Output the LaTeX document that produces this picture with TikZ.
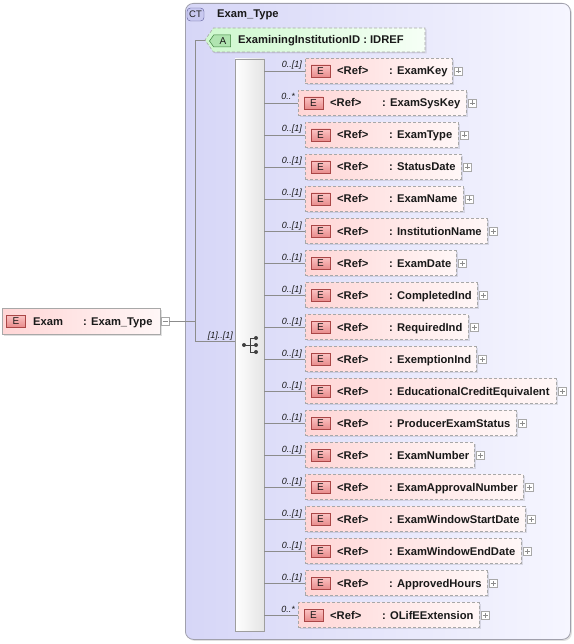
\documentclass[tikz,border=0pt]{standalone}
\usepackage{fontspec}
\setmainfont{Liberation Sans}
\usetikzlibrary{shapes.symbols,shadows,calc}
\definecolor{ctleft}{RGB}{214,214,247}
\definecolor{ctright}{RGB}{246,246,255}
\definecolor{ctborder}{RGB}{160,160,172}
\definecolor{eleft}{RGB}{255,214,214}
\definecolor{eright}{RGB}{255,247,247}
\definecolor{boxborder}{RGB}{168,168,168}
\definecolor{badgetop}{RGB}{252,196,196}
\definecolor{badgebot}{RGB}{232,140,140}
\definecolor{badgeborder}{RGB}{170,70,70}
\definecolor{aleft}{RGB}{206,248,206}
\definecolor{aright}{RGB}{246,255,246}
\definecolor{abadge}{RGB}{176,228,176}
\definecolor{abadgeborder}{RGB}{60,130,60}
\definecolor{ctbadge}{RGB}{200,200,240}
\definecolor{ctbadgeborder}{RGB}{90,90,150}
\definecolor{seqright}{RGB}{228,228,228}
\definecolor{connc}{RGB}{140,140,140}
\definecolor{txtc}{RGB}{25,25,25}
\tikzset{
  conn/.style={draw=connc, line width=0.6pt},
  lbl/.style={anchor=base west, inner sep=0pt, text=txtc, font=\fontsize{11.2}{13}\selectfont\bfseries},
  multlbl/.style={anchor=base east, inner sep=0pt, text=txtc, font=\fontsize{9}{10}\selectfont\itshape},
  elembox/.style={draw=boxborder, dash pattern=on 3pt off 2pt, line width=0.6pt,
    left color=eleft, right color=eright, minimum height=25pt, inner sep=0pt, outer sep=0pt,
    anchor=west, drop shadow={shadow xshift=1.5pt, shadow yshift=-1.5pt, fill=black, opacity=0.10}},
  ebadge/.style={draw=badgeborder, line width=0.5pt, top color=badgetop, bottom color=badgebot,
    minimum width=19pt, minimum height=12pt, inner sep=0pt, font=\fontsize{10}{10}\selectfont, text=txtc},
  plusbox/.style={draw=boxborder, fill=white, minimum width=8pt, minimum height=8pt, inner sep=0pt, line width=0.5pt},
  pmline/.style={draw=black!45, line width=0.5pt},
}
\newcommand\elemrow[6]{%
  \node[elembox, minimum width={#4pt-#3pt}] (#1) at (#3,#2) {};
  \node[ebadge] (#1-b) at (#3+15.5,#2) {E};
  \node[lbl] (#1-r) at (#3+32,#2+4) {<Ref>};
  \node[lbl] (#1-n) at (#3+84,#2+4) {: #6};
  \node[plusbox] (#1-p) at (#4+6,#2) {};
  \draw[pmline] ([xshift=-2.5pt]#1-p.center) -- ([xshift=2.5pt]#1-p.center)
                ([yshift=-2.5pt]#1-p.center) -- ([yshift=2.5pt]#1-p.center);
  \draw[conn] (seq.east |- #1.west) -- (#1.west);
  \node[multlbl] (#1-m) at (#3-3,#2-3) {#5};
}
\begin{document}
\begin{tikzpicture}[x=1pt,y=-1pt]
\useasboundingbox (0,0) rectangle (573,644);
% complex type container
\node[draw=ctborder, line width=0.8pt, rounded corners=8pt, left color=ctleft, right color=ctright,
  minimum width=385pt, minimum height=636pt, anchor=north west, inner sep=0pt,
  drop shadow={shadow xshift=1.5pt, shadow yshift=-1.5pt, fill=black, opacity=0.12}] (ct) at (185,3) {};
\node[draw=ctbadgeborder, fill=ctbadge, rounded corners=3.5pt, minimum width=17pt, minimum height=13pt,
  inner sep=0pt, font=\fontsize{9.5}{10}\selectfont, text=txtc] (ctb) at (195.5,14.5) {CT};
\node[lbl] (ctname) at (217,18) {Exam\_Type};
% top element
\node[draw=boxborder, line width=0.7pt, left color=eleft, right color=eright, minimum width=158pt,
  minimum height=26pt, anchor=north west, inner sep=0pt,
  drop shadow={shadow xshift=1.5pt, shadow yshift=-1.5pt, fill=black, opacity=0.12}] (exam) at (2,308) {};
\node[ebadge] (exam-b) at (16,321) {E};
\node[lbl] (exam-n) at (33,325) {Exam};
\node[lbl] (exam-t) at (83,325) {: Exam\_Type};
\node[plusbox] (exam-m) at (165,321) {};
\draw[pmline] ([xshift=-2.5pt]exam-m.center) -- ([xshift=2.5pt]exam-m.center);
% attribute
\node[signal, signal to=west, signal pointer angle=110, draw=boxborder, dash pattern=on 3pt off 2pt,
  line width=0.6pt, left color=aleft, right color=aright, minimum width=220pt, minimum height=24pt,
  inner sep=0pt, outer sep=0pt, anchor=west,
  drop shadow={shadow xshift=1.5pt, shadow yshift=-1.5pt, fill=black, opacity=0.10}] (attr) at (205,40) {};
\node[signal, signal to=west, signal pointer angle=110, draw=abadgeborder, fill=abadge, line width=0.5pt,
  minimum width=21pt, minimum height=12pt, inner sep=0pt, outer sep=0pt, anchor=west,
  font=\fontsize{10}{10}\selectfont, text=txtc] (attr-b) at (209.5,41) {\,A};
\node[lbl] (attr-n) at (238,44) {ExaminingInstitutionID : IDREF};
% sequence bar
\node[draw=black!38, line width=0.6pt, left color=white, right color=seqright, minimum width=29pt,
  minimum height=572pt, anchor=north west, inner sep=0pt, outer sep=0pt] (seq) at (235,59) {};
% sequence icon
\coordinate (ic) at (250,345);
\draw[black!75, line width=0.7pt] ($(ic)+(-6,0)$) -- (ic) ($(ic)+(0,-7)$) -- ($(ic)+(0,7)$)
  ($(ic)+(0,-7)$) -- ($(ic)+(6,-7)$) (ic) -- ($(ic)+(6,0)$) ($(ic)+(0,7)$) -- ($(ic)+(6,7)$);
\fill[black!75] ($(ic)+(-6,0)$) circle (2pt) ($(ic)+(6,-7)$) circle (2pt)
  ($(ic)+(6,0)$) circle (2pt) ($(ic)+(6,7)$) circle (2pt);
% trunk connectors
\coordinate (jtop) at (195.5,40);
\coordinate (jbot) at (195.5,341);
\draw[conn] (exam-m.east) -- (exam-m.east -| jtop);
\draw[conn] (attr.west) -- (jtop) -- (jbot) -- (jbot -| seq.west);
\node[multlbl] (seqm) at (233,338) {[1]..[1]};
% children
\elemrow{c1}{71}{305}{452}{0..[1]}{ExamKey}
\elemrow{c2}{103}{298}{466}{0..*}{ExamSysKey}
\elemrow{c3}{135}{305}{458}{0..[1]}{ExamType}
\elemrow{c4}{167}{305}{461}{0..[1]}{StatusDate}
\elemrow{c5}{199}{305}{463}{0..[1]}{ExamName}
\elemrow{c6}{231}{305}{487}{0..[1]}{InstitutionName}
\elemrow{c7}{263}{305}{456}{0..[1]}{ExamDate}
\elemrow{c8}{295}{305}{477}{0..[1]}{CompletedInd}
\elemrow{c9}{327}{305}{468}{0..[1]}{RequiredInd}
\elemrow{c10}{359}{305}{476}{0..[1]}{ExemptionInd}
\elemrow{c11}{391}{305}{556}{0..[1]}{EducationalCreditEquivalent}
\elemrow{c12}{423}{305}{516}{0..[1]}{ProducerExamStatus}
\elemrow{c13}{455}{305}{474}{0..[1]}{ExamNumber}
\elemrow{c14}{487}{305}{523}{0..[1]}{ExamApprovalNumber}
\elemrow{c15}{519}{305}{525}{0..[1]}{ExamWindowStartDate}
\elemrow{c16}{551}{305}{521}{0..[1]}{ExamWindowEndDate}
\elemrow{c17}{583}{305}{487}{0..[1]}{ApprovedHours}
\elemrow{c18}{615}{298}{479}{0..*}{OLifEExtension}
\end{tikzpicture}
\end{document}
